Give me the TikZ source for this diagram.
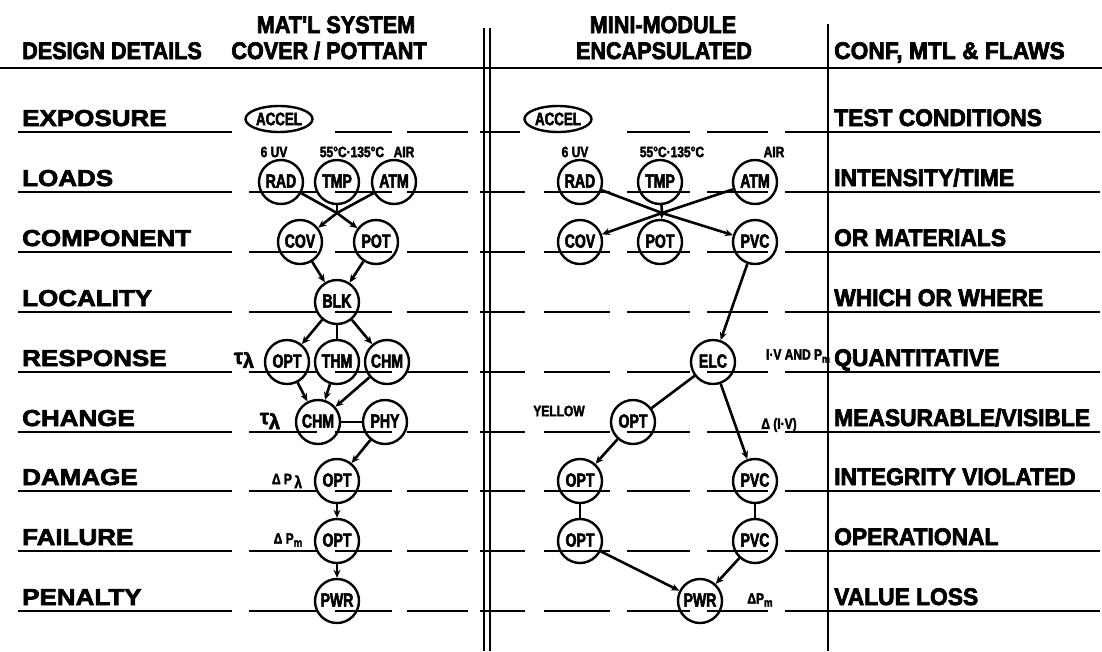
\documentclass[tikz,border=0pt]{standalone}
\usepackage{fontspec}
\setmainfont{Liberation Sans}
\newfontfamily\lblfont{Liberation Sans}[FakeStretch=0.95, BoldFeatures={FakeBold=3}]
\newfontfamily\leftfont{Liberation Sans}[FakeStretch=1.13, BoldFeatures={FakeBold=3}]
\newfontfamily\hdrfont{Liberation Sans}[FakeStretch=0.9, BoldFeatures={FakeBold=3}]
\newfontfamily\ndfont{Liberation Sans}[FakeStretch=0.74, BoldFeatures={FakeBold=2.6}]
\newfontfamily\smfont{Liberation Sans}[FakeStretch=0.8, BoldFeatures={FakeBold=2.2}]
\usetikzlibrary{arrows.meta,shapes.geometric}
\tikzset{
  rowline/.style={line width=2.8pt},
  lbl/.style={anchor=base west, inner sep=0pt, font=\lblfont\bfseries\fontsize{24}{26}\selectfont},
  llbl/.style={anchor=base west, inner sep=0pt, font=\leftfont\bfseries\fontsize{23}{25}\selectfont},
  hdr/.style={anchor=base, inner sep=0pt, font=\hdrfont\bfseries\fontsize{24}{26}\selectfont},
  cnode/.style={circle, draw, line width=2.4pt, minimum size=44pt, inner sep=0pt, font=\ndfont\bfseries\fontsize{19}{20}\selectfont},
  enode/.style={ellipse, draw, line width=2.4pt, minimum width=67pt, minimum height=26pt, inner sep=0pt, font=\ndfont\bfseries\fontsize{18}{19}\selectfont},
  ann/.style={inner sep=0pt, font=\smfont\bfseries\fontsize{15}{16}\selectfont},
  greek/.style={inner sep=0pt, font=\lblfont\bfseries\fontsize{21}{22}\selectfont},
  conn/.style={line width=2.6pt},
  arr/.style={conn, -{Stealth[length=8pt,width=7pt]}},
}
\newcommand{\nt}[1]{\raisebox{2pt}{#1}}
\begin{document}
\begin{tikzpicture}[x=1pt,y=-1pt]
\useasboundingbox[fill=white] (0,0) rectangle (1102,651);
% frame lines
\draw[line width=2pt] (0,68) -- (1102,68);
\draw[line width=2.4pt] (484,28) -- (484,651);
\draw[line width=2.4pt] (490,28) -- (490,651);
\draw[line width=2.8pt] (828,24) -- (828,651);
% row lines
\foreach \y in {192,252,312,372,432,491,551,611}{
  \foreach \a/\b in {18/232,249/317,335/392,407/468,480/525,544/610,627/690,707/768,785/1100}
    \draw[rowline] (\a,\y) -- (\b,\y);
}
\foreach \a/\b in {18/232,335/392,407/468,480/520,627/690,707/768,785/1100}
  \draw[rowline] (\a,132) -- (\b,132);
% headers
\node[hdr, anchor=base west] (hdd) at (22,59) {DESIGN DETAILS};
\node[hdr] (hms) at (336,33) {MAT'L SYSTEM};
\node[hdr] (hcp) at (329,59) {COVER / POTTANT};
\node[hdr] (hmm) at (663,33) {MINI-MODULE};
\node[hdr] (hen) at (664,59) {ENCAPSULATED};
\node[lbl] (hcf) at (834,59) {CONF, MTL \& FLAWS};
% left labels
\foreach \t/\y [count=\i] in {EXPOSURE/126,LOADS/186,COMPONENT/246,LOCALITY/306,RESPONSE/366,CHANGE/426,DAMAGE/485,FAILURE/545,PENALTY/605}
  \node[llbl] (L\i) at (22,\y) {\t};
% right labels
\foreach \t/\y [count=\i] in {{TEST CONDITIONS}/126,{INTENSITY/TIME}/186,{OR MATERIALS}/246,{WHICH OR WHERE}/306,{QUANTITATIVE}/366,{MEASURABLE/VISIBLE}/426,{INTEGRITY VIOLATED}/485,{OPERATIONAL}/545,{VALUE LOSS}/605}
  \node[lbl] (R\i) at (834,\y) {\t};

% ===== left column (material system) =====
\node[enode] (accL) at (279,119) {ACCEL};
\node[ann] (uvL) at (274,152) {6 UV};
\node[ann] (tL) at (352,152) {55°C·135°C};
\node[ann] (airL) at (404,152) {AIR};
\node[cnode] (radL) at (281,182) {\nt{RAD}};
\node[cnode] (tmpL) at (337,182) {\nt{TMP}};
\node[cnode] (atmL) at (394,182) {\nt{ATM}};
\node[cnode] (covL) at (300,242) {\nt{COV}};
\node[cnode] (potL) at (376,242) {\nt{POT}};
\node[cnode] (blkL) at (337,302) {\nt{BLK}};
\node[cnode] (optLa) at (287,362) {\nt{OPT}};
\node[cnode] (thmL) at (337,362) {\nt{THM}};
\node[cnode] (chmLa) at (387,362) {\nt{CHM}};
\node[cnode] (chmLb) at (318,422) {\nt{CHM}};
\node[cnode] (phyL) at (385,422) {\nt{PHY}};
\node[cnode] (optLb) at (337,481) {\nt{OPT}};
\node[cnode] (optLc) at (337,541) {\nt{OPT}};
\node[cnode] (pwrL) at (337,601) {\nt{PWR}};
\node[greek] (tauLa) at (244,360) {τ\raisebox{-4pt}{λ}};
\node[greek] (tauLb) at (270,421) {τ\raisebox{-5pt}{λ}};
\node[ann] (dpLa) at (287,481) {Δ P\,\raisebox{-4pt}{\fontsize{17}{17}\selectfont λ}};
\node[ann] (dpLb) at (288,540) {Δ P\raisebox{-3pt}{\fontsize{12}{12}\selectfont m}};

\coordinate (jL) at (337,213);
\draw[conn] (radL) -- (jL);
\draw[conn] (atmL) -- (jL);
\draw[conn] (tmpL) -- (jL);
\draw[arr] (jL) -- (covL);
\draw[arr] (jL) -- (potL);
\draw[arr] (covL) -- (blkL);
\draw[arr] (potL) -- (blkL);
\draw[arr] (blkL) -- (optLa);
\draw[conn] (blkL) -- (thmL);
\draw[arr] (blkL) -- (chmLa);
\draw[arr] (optLa) -- (chmLb);
\draw[arr] (thmL) -- (chmLb);
\draw[arr] (chmLa) -- (chmLb);
\draw[conn] (chmLb) -- (phyL);
\draw[arr] (phyL) -- (optLb);
\draw[arr] (optLb) -- (optLc);
\draw[arr] (optLc) -- (pwrL);

% ===== middle column (mini-module) =====
\node[enode] (accM) at (558,119) {ACCEL};
\node[ann] (uvM) at (575,152) {6 UV};
\node[ann] (tM) at (672,152) {55°C·135°C};
\node[ann] (airM) at (774,152) {AIR};
\node[cnode] (radM) at (580,182) {\nt{RAD}};
\node[cnode] (tmpM) at (660,182) {\nt{TMP}};
\node[cnode] (atmM) at (755,182) {\nt{ATM}};
\node[cnode] (covM) at (580,242) {\nt{COV}};
\node[cnode] (potM) at (660,242) {\nt{POT}};
\node[cnode] (pvcMa) at (755,242) {\nt{PVC}};
\node[cnode] (elcM) at (713,362) {\nt{ELC}};
\node[ann] (ivM) at (798,356) {I·V AND P\raisebox{-3pt}{\fontsize{11}{11}\selectfont m}};
\node[ann] (yelM) at (559,411) {YELLOW};
\node[cnode] (optMa) at (633,422) {\nt{OPT}};
\node[ann] (divM) at (779,425) {Δ (I·V)};
\node[cnode] (optMb) at (580,481) {\nt{OPT}};
\node[cnode] (pvcMb) at (755,481) {\nt{PVC}};
\node[cnode] (optMc) at (580,541) {\nt{OPT}};
\node[cnode] (pvcMc) at (755,541) {\nt{PVC}};
\node[cnode] (pwrM) at (700,601) {\nt{PWR}};
\node[ann] (dpM) at (760,600) {ΔP\raisebox{-3pt}{\fontsize{12}{12}\selectfont m}};

\coordinate (jM) at (662,213);
\draw[conn] (radM) -- (jM);
\draw[conn] (atmM) -- (jM);
\draw[conn] (tmpM) -- (jM);
\draw[arr] (jM) -- (covM);
\draw[arr] (jM) -- (potM);
\draw[arr] (jM) -- (pvcMa);
\draw[arr] (pvcMa) -- (elcM);
\draw[conn] (elcM) -- (optMa);
\draw[arr] (elcM) -- (pvcMb);
\draw[arr] (optMa) -- (optMb);
\draw[conn] (optMb) -- (optMc);
\draw[conn] (pvcMb) -- (pvcMc);
\draw[arr] (optMc) -- (pwrM);
\draw[arr] (pvcMc) -- (pwrM);
\end{tikzpicture}
\end{document}
